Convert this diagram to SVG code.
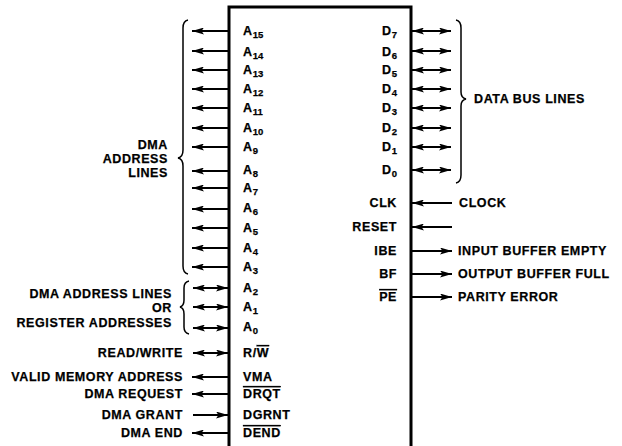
<svg xmlns="http://www.w3.org/2000/svg" width="622" height="446" viewBox="0 0 622 446">
<defs>
<marker id="ah" viewBox="0 0 12 7" refX="12" refY="3.5" markerWidth="12" markerHeight="7" markerUnits="userSpaceOnUse" orient="auto-start-reverse">
<path d="M0,0 L12,3.5 L0,7 L2.5,3.5 Z" fill="#000"/>
</marker>
<style>
text{font-family:"Liberation Sans",Arial,sans-serif;font-weight:bold;font-size:12.5px;letter-spacing:0.6px;fill:#000;stroke:#000;stroke-width:0.25px}
.e{text-anchor:end}
.s{font-size:9.5px;letter-spacing:0}
.ln{stroke:#000;stroke-width:1.8;fill:none}
.out{marker-end:url(#ah)}
.bi{marker-start:url(#ah);marker-end:url(#ah)}
.br{stroke:#000;stroke-width:1.5;fill:none}
.ov{text-decoration:overline}
</style>
</defs>
<rect width="622" height="446" fill="#fff"/>
<g id="chip">
<path d="M229,450 V7 H411 V450" fill="none" stroke="#000" stroke-width="3"/>
<text x="243" y="35">A<tspan class="s" dy="3">15</tspan></text>
<text x="243" y="56">A<tspan class="s" dy="3">14</tspan></text>
<text x="243" y="74">A<tspan class="s" dy="3">13</tspan></text>
<text x="243" y="93">A<tspan class="s" dy="3">12</tspan></text>
<text x="243" y="112">A<tspan class="s" dy="3">11</tspan></text>
<text x="243" y="132">A<tspan class="s" dy="3">10</tspan></text>
<text x="243" y="151">A<tspan class="s" dy="3">9</tspan></text>
<text x="243" y="174">A<tspan class="s" dy="3">8</tspan></text>
<text x="243" y="192">A<tspan class="s" dy="3">7</tspan></text>
<text x="243" y="212">A<tspan class="s" dy="3">6</tspan></text>
<text x="243" y="232">A<tspan class="s" dy="3">5</tspan></text>
<text x="243" y="252">A<tspan class="s" dy="3">4</tspan></text>
<text x="243" y="271">A<tspan class="s" dy="3">3</tspan></text>
<text x="243" y="292">A<tspan class="s" dy="3">2</tspan></text>
<text x="243" y="311">A<tspan class="s" dy="3">1</tspan></text>
<text x="243" y="331">A<tspan class="s" dy="3">0</tspan></text>
<text x="243" y="357">R/<tspan class="ov">W</tspan></text>
<text x="243" y="381">VMA</text>
<text x="243" y="398" class="ov">DRQT</text>
<text x="243" y="419">DGRNT</text>
<text x="243" y="437" class="ov">DEND</text>
<text x="397" y="35" class="e">D<tspan class="s" dy="3">7</tspan></text>
<text x="397" y="56" class="e">D<tspan class="s" dy="3">6</tspan></text>
<text x="397" y="74" class="e">D<tspan class="s" dy="3">5</tspan></text>
<text x="397" y="93" class="e">D<tspan class="s" dy="3">4</tspan></text>
<text x="397" y="112" class="e">D<tspan class="s" dy="3">3</tspan></text>
<text x="397" y="132" class="e">D<tspan class="s" dy="3">2</tspan></text>
<text x="397" y="151" class="e">D<tspan class="s" dy="3">1</tspan></text>
<text x="397" y="174" class="e">D<tspan class="s" dy="3">0</tspan></text>
<text x="397" y="207" class="e">CLK</text>
<text x="397" y="231" class="e">RESET</text>
<text x="397" y="255" class="e">IBE</text>
<text x="397" y="278" class="e">BF</text>
<text x="397" y="301" class="e ov">PE</text>
</g>
<g id="labels">
<text x="168" y="149" class="e">DMA</text>
<text x="168" y="163" class="e">ADDRESS</text>
<text x="168" y="177" class="e">LINES</text>
<text x="172" y="298" class="e">DMA ADDRESS LINES</text>
<text x="172" y="312" class="e">OR</text>
<text x="172" y="327" class="e">REGISTER ADDRESSES</text>
<text x="183" y="357" class="e">READ/WRITE</text>
<text x="183" y="381" class="e">VALID MEMORY ADDRESS</text>
<text x="183" y="398" class="e">DMA REQUEST</text>
<text x="183" y="419" class="e">DMA GRANT</text>
<text x="183" y="437" class="e">DMA END</text>
<text x="474" y="103">DATA BUS LINES</text>
<text x="459" y="207">CLOCK</text>
<text x="458" y="255">INPUT BUFFER EMPTY</text>
<text x="458" y="278">OUTPUT BUFFER FULL</text>
<text x="458" y="301">PARITY ERROR</text>
</g>
<g id="braces">
<path class="br" d="M188,20 Q183,21 183,28 L183,150 Q183,157 178,158 Q183,159 183,166 L183,266 Q183,273 188,274"/>
<path class="br" d="M189,281 Q184,282 184,288 L184,300 Q184,306 180,307 Q184,308 184,314 L184,327 Q184,333 189,334"/>
<path class="br" d="M456,20 Q461,21 461,28 L461,92 Q461,98 466,99 Q461,100 461,106 L461,175 Q461,182 456,183"/>
</g>
<g id="connectors">
<line class="ln out" x1="229" y1="31" x2="192" y2="31"/>
<line class="ln out" x1="229" y1="51" x2="192" y2="51"/>
<line class="ln out" x1="229" y1="70" x2="192" y2="70"/>
<line class="ln out" x1="229" y1="89" x2="192" y2="89"/>
<line class="ln out" x1="229" y1="108" x2="192" y2="108"/>
<line class="ln out" x1="229" y1="128" x2="192" y2="128"/>
<line class="ln out" x1="229" y1="147" x2="192" y2="147"/>
<line class="ln out" x1="229" y1="171" x2="192" y2="171"/>
<line class="ln out" x1="229" y1="188" x2="192" y2="188"/>
<line class="ln out" x1="229" y1="209" x2="192" y2="209"/>
<line class="ln out" x1="229" y1="228" x2="192" y2="228"/>
<line class="ln out" x1="229" y1="248" x2="192" y2="248"/>
<line class="ln out" x1="229" y1="267" x2="192" y2="267"/>
<line class="ln bi" x1="193" y1="288" x2="228" y2="288"/>
<line class="ln bi" x1="193" y1="307" x2="228" y2="307"/>
<line class="ln bi" x1="193" y1="328" x2="228" y2="328"/>
<line class="ln bi" x1="193" y1="353" x2="228" y2="353"/>
<line class="ln out" x1="229" y1="377" x2="192" y2="377"/>
<line class="ln out" x1="229" y1="394" x2="192" y2="394"/>
<line class="ln out" x1="193" y1="415" x2="228" y2="415"/>
<line class="ln out" x1="229" y1="433" x2="192" y2="433"/>
<line class="ln bi" x1="412" y1="31" x2="451" y2="31"/>
<line class="ln bi" x1="412" y1="51" x2="451" y2="51"/>
<line class="ln bi" x1="412" y1="70" x2="451" y2="70"/>
<line class="ln bi" x1="412" y1="89" x2="451" y2="89"/>
<line class="ln bi" x1="412" y1="108" x2="451" y2="108"/>
<line class="ln bi" x1="412" y1="128" x2="451" y2="128"/>
<line class="ln bi" x1="412" y1="147" x2="451" y2="147"/>
<line class="ln bi" x1="412" y1="170" x2="451" y2="170"/>
<line class="ln out" x1="452" y1="203" x2="412" y2="203"/>
<line class="ln out" x1="452" y1="227" x2="412" y2="227"/>
<line class="ln out" x1="411" y1="251" x2="452" y2="251"/>
<line class="ln out" x1="411" y1="274" x2="452" y2="274"/>
<line class="ln out" x1="411" y1="297" x2="452" y2="297"/>
</g>
</svg>
